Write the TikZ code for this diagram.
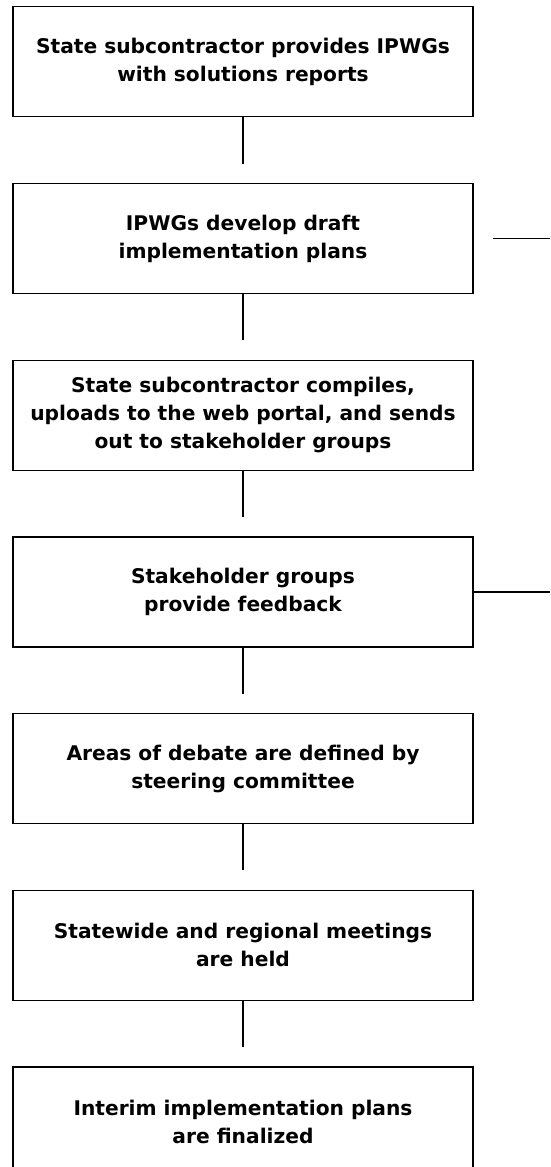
\documentclass[tikz,border=0pt]{standalone}
\usepackage{fontspec}
\setmainfont{DejaVu Sans}
\usetikzlibrary{matrix}

\tikzset{
  stepbox/.style={draw, line width=1.2pt, minimum width=460pt, minimum height=110pt,
    inner sep=0pt, outer sep=0pt, align=center,
    font=\bfseries\fontsize{20.2}{28}\selectfont},
  link/.style={line width=1.2pt}
}

\begin{document}
\begin{tikzpicture}
\useasboundingbox (0,0) rectangle (550pt,-1167pt);

\matrix[row sep=65.5pt, inner sep=0pt, anchor=north] (m) at (243pt,-6pt)
{
  \node[stepbox] (b1) {State subcontractor provides IPWGs\\with solutions reports}; \\
  \node[stepbox] (b2) {IPWGs develop draft\\implementation plans}; \\
  \node[stepbox] (b3) {State subcontractor compiles,\\uploads to the web portal, and sends\\out to stakeholder groups}; \\
  \node[stepbox] (b4) {Stakeholder groups\\provide feedback}; \\
  \node[stepbox] (b5) {Areas of debate are defined by\\steering committee}; \\
  \node[stepbox] (b6) {Statewide and regional meetings\\are held}; \\
  \node[stepbox] (b7) {Interim implementation plans\\are finalized}; \\
};

% links between the steps stop short of the next box
\foreach \i/\j in {1/2,2/3,3/4,4/5,5/6,6/7}
  \draw[link, shorten >=20pt] (b\i) -- (b\j);

% stubs running off the right edge
\coordinate (edge) at (550pt,0);
\draw[link] ([xshift=20pt]b2.east) -- (b2.east -| edge);
\draw[link] (b4.east) -- (b4.east -| edge);

\end{tikzpicture}
\end{document}
